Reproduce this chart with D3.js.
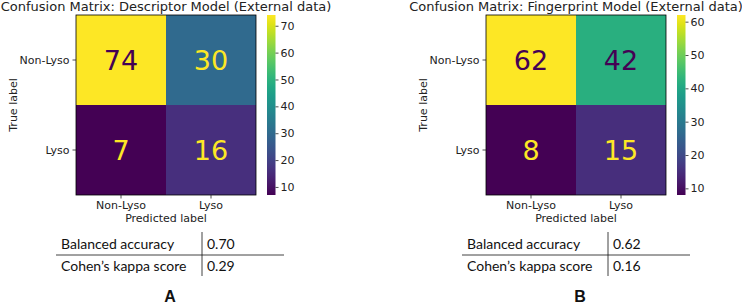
<!DOCTYPE html>
<html>
<head>
<meta charset="utf-8">
<script src="https://cdn.jsdelivr.net/npm/d3@7"></script>
<style>
  body { margin: 0; background: #fff; }
  svg { display: block; }
</style>
</head>
<body>
<svg id="chart" width="742" height="305"></svg>
<script>
const classes = ["Non-Lyso", "Lyso"];
const descMatrix = [[74, 30], [7, 16]];
const fpMatrix = [[62, 42], [8, 15]];
const descTicks = [10, 20, 30, 40, 50, 60, 70];
const fpTicks = [10, 20, 30, 40, 50, 60];
const metricNames = ["Balanced accuracy", "Cohen\u2019s kappa score"];
const descMetrics = ["0.70", "0.29"];
const fpMetrics = ["0.62", "0.16"];

const svg = d3.select("#chart");
const font = "DejaVu Sans, sans-serif";

make_panel = function (opt) {
    const g = svg.append("g");
    const size = 180, top = 15;
    const left = opt.left;
    const matrix = opt.matrix;
    const flat = matrix.flat();
    const vmin = d3.min(flat), vmax = d3.max(flat);

    const x = d3.scaleBand().domain(d3.range(classes.length)).range([left, left + size]);
    const y = d3.scaleBand().domain(d3.range(classes.length)).range([top, top + size]);
    const color = d3.scaleSequential(d3.interpolateViridis).domain([vmin, vmax]);
    const thresh = (vmin + vmax) / 2;

    const cells = [];
    matrix.forEach((row, i) => row.forEach((v, j) => cells.push({ i, j, v })));

    g.append("g").selectAll("rect").data(cells).join("rect")
        .attr("x", d => x(d.j)).attr("y", d => y(d.i))
        .attr("width", x.bandwidth()).attr("height", y.bandwidth())
        .attr("fill", d => color(d.v));

    g.append("g").selectAll("text").data(cells).join("text")
        .attr("x", d => x(d.j) + x.bandwidth() / 2)
        .attr("y", d => y(d.i) + y.bandwidth() / 2)
        .attr("dy", "0.36em")
        .attr("text-anchor", "middle")
        .attr("font-family", font).attr("font-size", 27)
        .attr("fill", d => d.v < thresh ? d3.interpolateViridis(1) : d3.interpolateViridis(0))
        .text(d => d.v);

    g.append("rect")
        .attr("x", left).attr("y", top).attr("width", size).attr("height", size)
        .attr("fill", "none").attr("stroke", "#000").attr("stroke-width", 0.8);

    // axes
    const xAxis = g.append("g")
        .attr("transform", `translate(0,${top + size})`)
        .call(d3.axisBottom(x).tickFormat(i => classes[i]).tickSize(3.5).tickPadding(3));
    const yAxis = g.append("g")
        .attr("transform", `translate(${left},0)`)
        .call(d3.axisLeft(y).tickFormat(i => classes[i]).tickSize(3.5).tickPadding(3));
    [xAxis, yAxis].forEach(a => {
        a.select(".domain").remove();
        a.selectAll("text").attr("font-family", font).attr("font-size", 11).attr("fill", "#222");
        a.selectAll("line").attr("stroke", "#222").attr("stroke-width", 0.8);
    });

    g.append("text")
        .attr("x", left + size / 2).attr("y", top + size + 27)
        .attr("text-anchor", "middle").attr("font-family", font).attr("font-size", 11)
        .attr("fill", "#222").text("Predicted label");
    g.append("text")
        .attr("transform", `translate(${left - 59},${top + size / 2}) rotate(-90)`)
        .attr("text-anchor", "middle").attr("font-family", font).attr("font-size", 11)
        .attr("fill", "#222").text("True label");

    g.append("text")
        .attr("x", left + size / 2).attr("y", 11)
        .attr("text-anchor", "middle").attr("font-family", font).attr("font-size", 13)
        .attr("fill", "#222").text(opt.title);

    // colorbar
    const cbx = left + size + 11, cbw = 8.5;
    const cy = d3.scaleLinear().domain([vmin, vmax]).range([top + size, top]);
    const gid = "grad" + opt.id;
    const grad = svg.append("defs").append("linearGradient")
        .attr("id", gid).attr("x1", 0).attr("y1", 1).attr("x2", 0).attr("y2", 0);
    d3.range(0, 1.0001, 0.05).forEach(t => {
        grad.append("stop").attr("offset", t).attr("stop-color", d3.interpolateViridis(t));
    });
    g.append("rect")
        .attr("x", cbx).attr("y", top).attr("width", cbw).attr("height", size)
        .attr("fill", `url(#${gid})`);
    const cAxis = g.append("g")
        .attr("transform", `translate(${cbx + cbw},0)`)
        .call(d3.axisRight(cy).tickValues(opt.ticks).tickSize(3).tickPadding(2));
    cAxis.select(".domain").remove();
    cAxis.selectAll("text").attr("font-family", font).attr("font-size", 11).attr("fill", "#222");
    cAxis.selectAll("line").attr("stroke", "#222").attr("stroke-width", 0.8);

    // metrics table
    const tx = opt.tableLeft;
    const rowY = d3.scaleBand().domain(d3.range(metricNames.length)).range([233, 277]);
    const tg = g.append("g").attr("font-family", "Lato, sans-serif").attr("font-size", 14).attr("fill", "#111");
    tg.selectAll("text.name").data(metricNames).join("text").attr("class", "name")
        .attr("x", tx + 5).attr("y", (d, i) => rowY(i) + rowY.bandwidth() / 2).attr("dy", "0.35em")
        .text(d => d);
    tg.selectAll("text.val").data(opt.metrics).join("text").attr("class", "val")
        .attr("x", tx + 151).attr("y", (d, i) => rowY(i) + rowY.bandwidth() / 2).attr("dy", "0.35em")
        .text(d => d);
    g.append("line")
        .attr("x1", tx).attr("x2", tx + 228).attr("y1", rowY(1)).attr("y2", rowY(1))
        .attr("stroke", "#111").attr("stroke-width", 0.8);
    g.append("line")
        .attr("x1", tx + 146).attr("x2", tx + 146).attr("y1", 232).attr("y2", 276)
        .attr("stroke", "#111").attr("stroke-width", 0.8);

    g.append("text")
        .attr("x", left + size / 2 + 4).attr("y", 302)
        .attr("text-anchor", "middle").attr("font-family", "Liberation Sans, Arial, sans-serif")
        .attr("font-weight", "bold").attr("font-size", 16).attr("fill", "#111")
        .text(opt.letter);
};

make_panel({ id: "a", left: 76, matrix: descMatrix, ticks: descTicks,
    title: "Confusion Matrix: Descriptor Model (External data)",
    metrics: descMetrics, tableLeft: 56, letter: "A" });
make_panel({ id: "b", left: 486, matrix: fpMatrix, ticks: fpTicks,
    title: "Confusion Matrix: Fingerprint Model (External data)",
    metrics: fpMetrics, tableLeft: 462, letter: "B" });
</script>
</body>
</html>
